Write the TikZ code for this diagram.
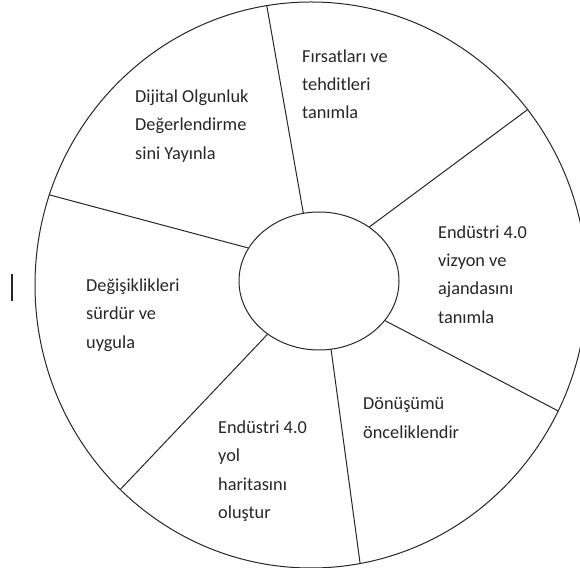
\documentclass[tikz,border=0pt]{standalone}
\usepackage{fontspec}
\setmainfont{Carlito}
\usepackage{tikz}
\usetikzlibrary{shapes.geometric, positioning}
\tikzset{
  wheel/.style={ellipse, draw=black!85, line width=1pt, inner sep=0pt},
  spoke/.style={draw=black!85, line width=1pt},
  lbl/.style={anchor=base west, inner sep=0pt, text=black!85,
    font=\fontsize{18.3}{28.3}\selectfont}
}
\newcommand{\blok}[1]{\parbox[t]{6cm}{\raggedright #1}}

\begin{document}
\begin{tikzpicture}[x=1pt, y=1pt]
		\useasboundingbox (0,0) rectangle (580,567);
		\node (rim) [wheel, minimum width=552pt, minimum height=566pt] at (311,282) {};
		\node (hub) [wheel, minimum width=160pt, minimum height=138pt] at (319,286) {};
		% spokes: hub angle / rim angle
		\foreach \a/\b in {103.6/99.6, 47.5/39.0, -31.0/-27.5, -80.4/-80.1, 226.4/227.6, 155.2/161.2}
			\path[spoke] (hub.\a) -- (rim.\b);
		\node (dijital) [lbl] at (135,464.3) {\blok{Dijital Olgunluk\\Değerlendirme\\sini Yayınla}};
		\node (firsat) [lbl] at (302,504.7) {\blok{Fırsatları ve\\tehditleri\\tanımla}};
		\node (vizyon) [lbl] at (438,328.7) {\blok{Endüstri 4.0\\vizyon ve\\ajandasını\\tanımla}};
		\node (oncelik) [lbl] at (363,157) {\blok{Dönüşümü\\önceliklendir}};
		\node (yol) [lbl] at (218,133.5) {\blok{Endüstri 4.0\\yol\\haritasını\\oluştur}};
		\node (surdur) [lbl] at (86,275.3) {\blok{Değişiklikleri\\sürdür ve\\uygula}};
		% stray bar on the left
		\draw[black!85, line width=1.2pt] (12,293) -- (12,266);
	\end{tikzpicture}
\end{document}
